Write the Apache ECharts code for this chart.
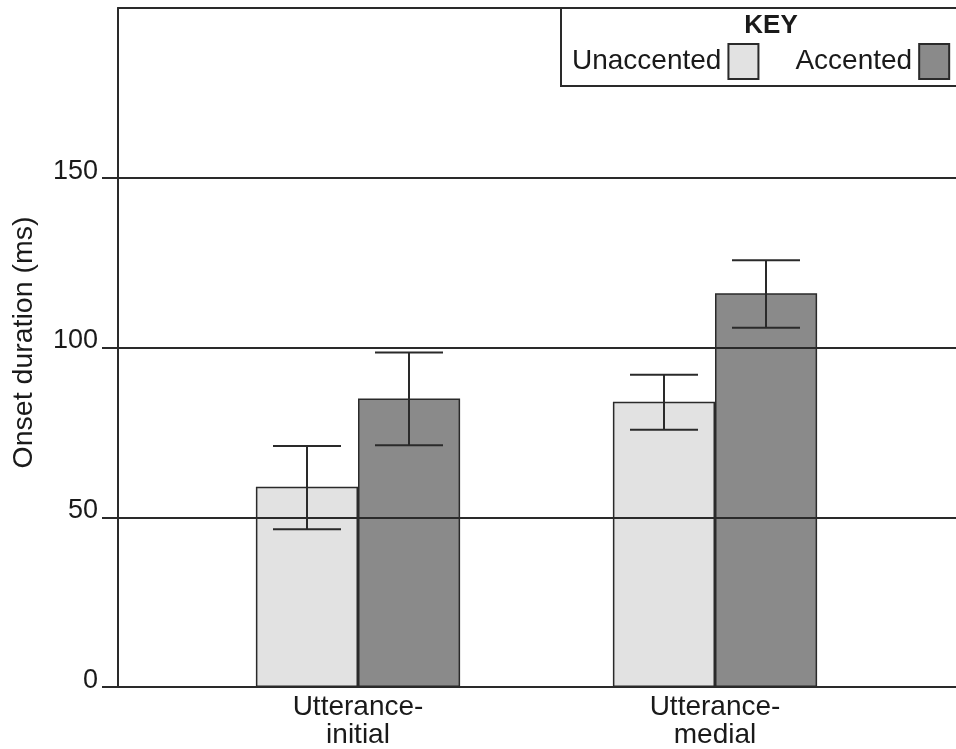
<!DOCTYPE html>
<html>
<head>
<meta charset="utf-8">
<script src="https://cdn.jsdelivr.net/npm/echarts@6/dist/echarts.min.js"></script>
<style>
html,body{margin:0;padding:0;background:#fff;}
#chart{width:956px;height:749px;}
</style>
</head>
<body>
<div id="chart"></div>
<script>
const categories = ['Utterance-\ninitial', 'Utterance-\nmedial'];
const seriesNames = ['Unaccented', 'Accented'];
const unaccented = [59, 84];
const accented = [85, 116];
const unaccentedLow = [46.5, 75.8];
const unaccentedHigh = [71, 92];
const accentedLow = [71.2, 105.8];
const accentedHigh = [98.5, 125.7];
const yTicks = [0, 50, 100, 150];
const yMax = 200;
const yTitle = 'Onset duration (ms)';
const keyTitle = 'KEY';

const FONT = '"Liberation Sans", Arial, Helvetica, sans-serif';
const INK = '#1a1a1a';
const LINE = '#2a2a2a';

function errData(lo, hi) {
  return lo.map((v, i) => [i, v, hi[i]]);
}
function errRender(sign) {
  return function (params, api) {
    const idx = api.value(0);
    const lo = api.value(1), hi = api.value(2);
    const band = api.size([1, 0])[0];
    const off = sign * band * 51 / 357;
    const cap = band * 34 / 357;
    const pLo = api.coord([idx, lo]);
    const pHi = api.coord([idx, hi]);
    const x = pLo[0] + off;
    const st = { stroke: LINE, lineWidth: 2 };
    return {
      type: 'group',
      children: [
        { type: 'line', shape: { x1: x, y1: pLo[1], x2: x, y2: pHi[1] }, style: st },
        { type: 'line', shape: { x1: x - cap, y1: pHi[1], x2: x + cap, y2: pHi[1] }, style: st },
        { type: 'line', shape: { x1: x - cap, y1: pLo[1], x2: x + cap, y2: pLo[1] }, style: st }
      ]
    };
  };
}

const chart = echarts.init(document.getElementById('chart'), null, { renderer: 'canvas' });
chart.setOption({
  backgroundColor: '#fff',
  animation: false,
  textStyle: { fontFamily: FONT, color: INK },
  grid: [
    { left: 118, right: 0, top: 8, bottom: 62 },
    { left: 179.5, right: 62.5, top: 8, bottom: 62 }
  ],
  xAxis: [
    {
      gridIndex: 0, type: 'value', min: 0, max: 1, position: 'top',
      axisLine: { show: true, onZero: false, lineStyle: { color: LINE, width: 2 } },
      axisTick: { show: false }, axisLabel: { show: false }, splitLine: { show: false }
    },
    {
      gridIndex: 1, type: 'category', data: categories,
      axisLine: { show: false }, axisTick: { show: false }, splitLine: { show: false },
      axisLabel: { fontSize: 28, lineHeight: 28, color: INK, fontFamily: FONT, margin: 6 }
    }
  ],
  yAxis: [
    {
      gridIndex: 0, type: 'value', min: 0, max: yMax, interval: 50, z: 5,
      name: yTitle, nameLocation: 'middle', nameGap: 79,
      nameTextStyle: { fontSize: 28.5, color: INK, fontFamily: FONT, padding: [0, 0, 0, 10] },
      axisLine: { show: true, lineStyle: { color: LINE, width: 2 } },
      axisTick: { show: true, length: 16, customValues: yTicks, lineStyle: { color: LINE, width: 2 } },
      axisLabel: { customValues: yTicks, fontSize: 27, color: INK, fontFamily: FONT, margin: 20, verticalAlign: 'bottom', lineHeight: 13 },
      splitLine: { show: true, lineStyle: { color: LINE, width: 2 } }
    },
    { gridIndex: 1, type: 'value', min: 0, max: yMax, show: false }
  ],
  legend: {
    data: seriesNames,
    left: 572, top: 43, padding: 0,
    align: 'right',
    icon: 'rect',
    itemWidth: 30, itemHeight: 35, itemGap: 36,
    textStyle: { fontSize: 28, color: INK, fontFamily: FONT, padding: [0, 2, 0, 0] },
    selectedMode: false
  },
  graphic: [
    {
      type: 'rect', z: -1,
      shape: { x: 561, y: 8, width: 420, height: 78 },
      style: { fill: '#fff', stroke: LINE, lineWidth: 2 }
    },
    {
      type: 'text', x: 771, y: 13,
      style: { text: keyTitle, fontSize: 26, fontWeight: 'bold', fill: INK, font: 'bold 26px ' + FONT, textAlign: 'center', textVerticalAlign: 'top' }
    }
  ],
  series: [
    {
      name: seriesNames[0], type: 'bar', xAxisIndex: 1, yAxisIndex: 1,
      data: unaccented, barWidth: '28.6%', barGap: '0%',
      itemStyle: { color: '#e2e2e2', borderColor: LINE, borderWidth: 1.5 }
    },
    {
      name: seriesNames[1], type: 'bar', xAxisIndex: 1, yAxisIndex: 1,
      data: accented, barWidth: '28.6%', barGap: '0%',
      itemStyle: { color: '#8a8a8a', borderColor: LINE, borderWidth: 1.5 }
    },
    {
      type: 'custom', xAxisIndex: 1, yAxisIndex: 1, z: 6,
      renderItem: errRender(-1), data: errData(unaccentedLow, unaccentedHigh)
    },
    {
      type: 'custom', xAxisIndex: 1, yAxisIndex: 1, z: 6,
      renderItem: errRender(1), data: errData(accentedLow, accentedHigh)
    }
  ]
});
</script>
</body>
</html>
